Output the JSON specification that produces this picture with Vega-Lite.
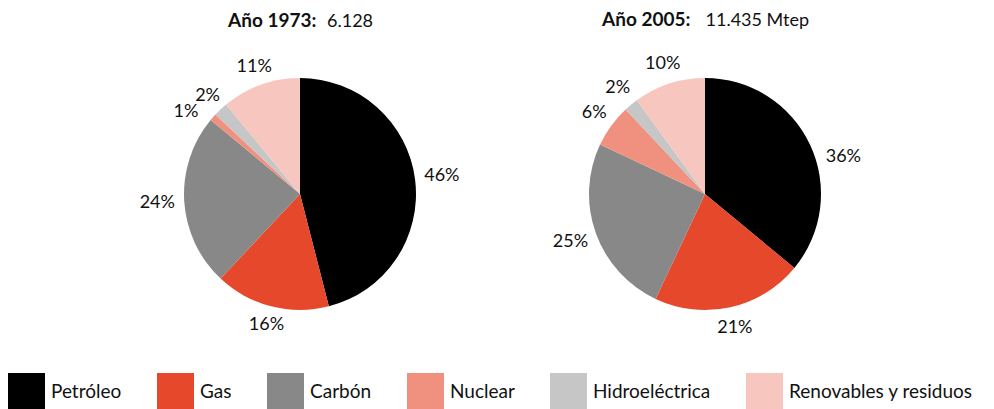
{
  "$schema": "https://vega.github.io/schema/vega-lite/v6.json",
  "background": "white",
  "padding": {"left": 8, "top": 10, "right": 0, "bottom": 0},
  "data": {"values": [
    {"anio": "1973", "fuente": "Petróleo", "valor": 46, "etiqueta": "46%", "orden": 1},
    {"anio": "1973", "fuente": "Gas", "valor": 16, "etiqueta": "16%", "orden": 2},
    {"anio": "1973", "fuente": "Carbón", "valor": 24, "etiqueta": "24%", "orden": 3},
    {"anio": "1973", "fuente": "Nuclear", "valor": 1, "etiqueta": "1%", "orden": 4},
    {"anio": "1973", "fuente": "Hidroeléctrica", "valor": 2, "etiqueta": "2%", "orden": 5},
    {"anio": "1973", "fuente": "Renovables y residuos", "valor": 11, "etiqueta": "11%", "orden": 6},
    {"anio": "2005", "fuente": "Petróleo", "valor": 36, "etiqueta": "36%", "orden": 1},
    {"anio": "2005", "fuente": "Gas", "valor": 21, "etiqueta": "21%", "orden": 2},
    {"anio": "2005", "fuente": "Carbón", "valor": 25, "etiqueta": "25%", "orden": 3},
    {"anio": "2005", "fuente": "Nuclear", "valor": 6, "etiqueta": "6%", "orden": 4},
    {"anio": "2005", "fuente": "Hidroeléctrica", "valor": 2, "etiqueta": "2%", "orden": 5},
    {"anio": "2005", "fuente": "Renovables y residuos", "valor": 10, "etiqueta": "10%", "orden": 6}
  ]},
  "config": {
    "view": {"stroke": null},
    "font": "Lato",
    "concat": {"spacing": 35},
    "text": {"fontSize": 18, "font": "Lato", "color": "#111111"}
  },
  "hconcat": [
    {
      "width": 370,
      "height": 260,
      "title": {
        "text": "Año 1973:",
        "subtitle": "\u200b\u2003\u2003\u2003\u2003\u2003\u2003\u2003\u20056.128",
        "anchor": "middle",
        "align": "left",
        "dx": -72,
        "font": "Lato",
        "fontSize": 19,
        "fontWeight": "bold",
        "color": "#111111",
        "subtitleFont": "Lato",
        "subtitleFontSize": 18,
        "subtitleFontWeight": "normal",
        "subtitleColor": "#111111",
        "subtitlePadding": -18,
        "offset": 19
      },
      "transform": [{"filter": "datum.anio == '1973'"}],
      "encoding": {
        "theta": {"field": "valor", "type": "quantitative", "stack": true},
        "order": {"field": "orden", "type": "quantitative"}
      },
      "layer": [
        {
          "mark": {"type": "arc", "outerRadius": 116},
          "encoding": {
            "color": {
              "field": "fuente",
              "type": "nominal",
              "scale": {
                "domain": ["Petróleo", "Gas", "Carbón", "Nuclear", "Hidroeléctrica", "Renovables y residuos"],
                "range": ["#000000", "#E5482B", "#888888", "#F0907F", "#C6C6C7", "#F7C7BF"]
              },
              "legend": {
                "title": null,
                "orient": "none",
                "legendX": -107,
                "legendY": 309,
                "direction": "horizontal",
                "columns": 6,
                "symbolType": "square",
                "symbolSize": 1369,
                "symbolStrokeWidth": 0,
                "symbolOpacity": 1,
                "labelFont": "Lato",
                "labelFontSize": 19,
                "labelColor": "#111111",
                "labelOffset": 6,
                "columnPadding": 35,
                "padding": 0,
                "labelLimit": 300
              }
            }
          }
        },
        {
          "mark": {"type": "text", "radius": 143},
          "encoding": {"text": {"condition": {"test": "datum.fuente != 'Petróleo' && datum.fuente != 'Carbón'", "value": ""}, "field": "etiqueta", "type": "nominal"}}
        },
        {
          "mark": {"type": "text", "radius": 135},
          "encoding": {"text": {"condition": {"test": "datum.fuente == 'Petróleo' || datum.fuente == 'Carbón' || datum.fuente == 'Nuclear'", "value": ""}, "field": "etiqueta", "type": "nominal"}}
        },
        {
          "mark": {"type": "text", "radius": 140, "dx": -9, "dy": 11},
          "encoding": {"text": {"condition": {"test": "datum.fuente != 'Nuclear'", "value": ""}, "field": "etiqueta", "type": "nominal"}}
        }
      ]
    },
    {
      "width": 370,
      "height": 260,
      "title": {
        "text": "Año 2005:",
        "subtitle": "\u200b\u2003\u2003\u2003\u2003\u2003\u2003\u2002\u2002\u200511.435 Mtep",
        "anchor": "middle",
        "align": "left",
        "dx": -103,
        "font": "Lato",
        "fontSize": 19,
        "fontWeight": "bold",
        "color": "#111111",
        "subtitleFont": "Lato",
        "subtitleFontSize": 18,
        "subtitleFontWeight": "normal",
        "subtitleColor": "#111111",
        "subtitlePadding": -18,
        "offset": 19
      },
      "transform": [{"filter": "datum.anio == '2005'"}],
      "encoding": {
        "theta": {"field": "valor", "type": "quantitative", "stack": true},
        "order": {"field": "orden", "type": "quantitative"}
      },
      "layer": [
        {
          "mark": {"type": "arc", "outerRadius": 116},
          "encoding": {
            "color": {
              "field": "fuente",
              "type": "nominal",
              "scale": {
                "domain": ["Petróleo", "Gas", "Carbón", "Nuclear", "Hidroeléctrica", "Renovables y residuos"],
                "range": ["#000000", "#E5482B", "#888888", "#F0907F", "#C6C6C7", "#F7C7BF"]
              }
            }
          }
        },
        {
          "mark": {"type": "text", "radius": 143},
          "encoding": {"text": {"condition": {"test": "datum.fuente != 'Carbón'", "value": ""}, "field": "etiqueta", "type": "nominal"}}
        },
        {
          "mark": {"type": "text", "radius": 137},
          "encoding": {"text": {"condition": {"test": "datum.fuente == 'Carbón' || datum.fuente == 'Petróleo'", "value": ""}, "field": "etiqueta", "type": "nominal"}}
        },
        {
          "mark": {"type": "text", "radius": 143, "dx": 9, "dy": 24},
          "encoding": {"text": {"condition": {"test": "datum.fuente != 'Petróleo'", "value": ""}, "field": "etiqueta", "type": "nominal"}}
        }
      ]
    }
  ]
}
